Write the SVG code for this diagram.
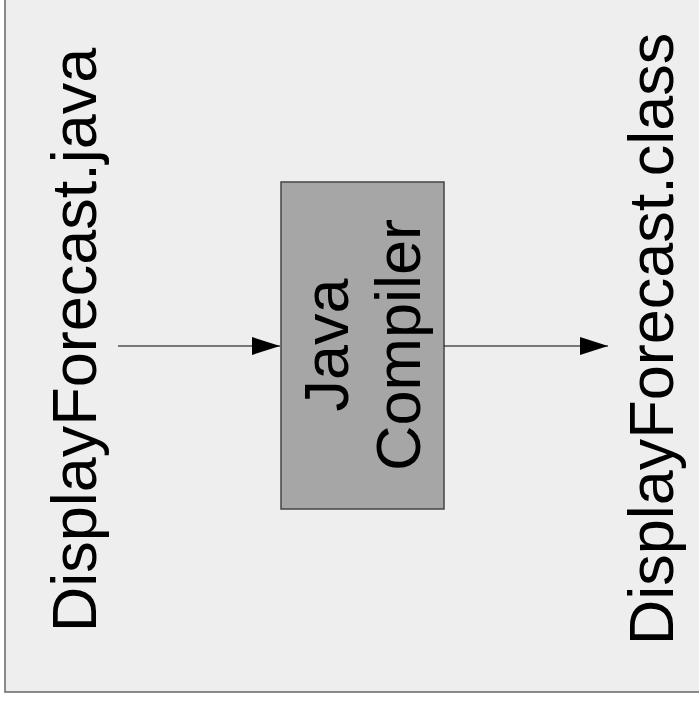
<svg xmlns="http://www.w3.org/2000/svg" width="699" height="701" viewBox="0 0 699 701">
<style>
.t{font-family:"Liberation Sans",Arial,sans-serif;font-size:63px;fill:#000;text-anchor:middle}
.c{stroke:#000;stroke-width:1.2;fill:none}
</style>
<defs>
<marker id="ah" markerWidth="28" markerHeight="18" refX="28" refY="9" orient="auto" markerUnits="userSpaceOnUse">
<path d="M0,0 L28,9 L0,18 Z" fill="#000"/>
</marker>
</defs>
<rect x="5" y="-2" width="700" height="694" fill="#eeeeee" stroke="#666" stroke-width="1.5"/>
<g id="src">
<text class="t" transform="translate(96,340) rotate(-90)">DisplayForecast.java</text>
</g>
<g id="compiler">
<rect x="281" y="182" width="163" height="327" fill="#a6a6a6" stroke="#444" stroke-width="1.5"/>
<text class="t" transform="translate(348,345) rotate(-90)">Java</text>
<text class="t" transform="translate(420,345) rotate(-90)">Compiler</text>
</g>
<g id="out">
<text class="t" transform="translate(673,339) rotate(-90)">DisplayForecast.class</text>
</g>
<g id="connectors">
<line class="c" x1="118" y1="346" x2="280" y2="346" marker-end="url(#ah)"/>
<line class="c" x1="444" y1="346" x2="608" y2="346" marker-end="url(#ah)"/>
</g>
</svg>
